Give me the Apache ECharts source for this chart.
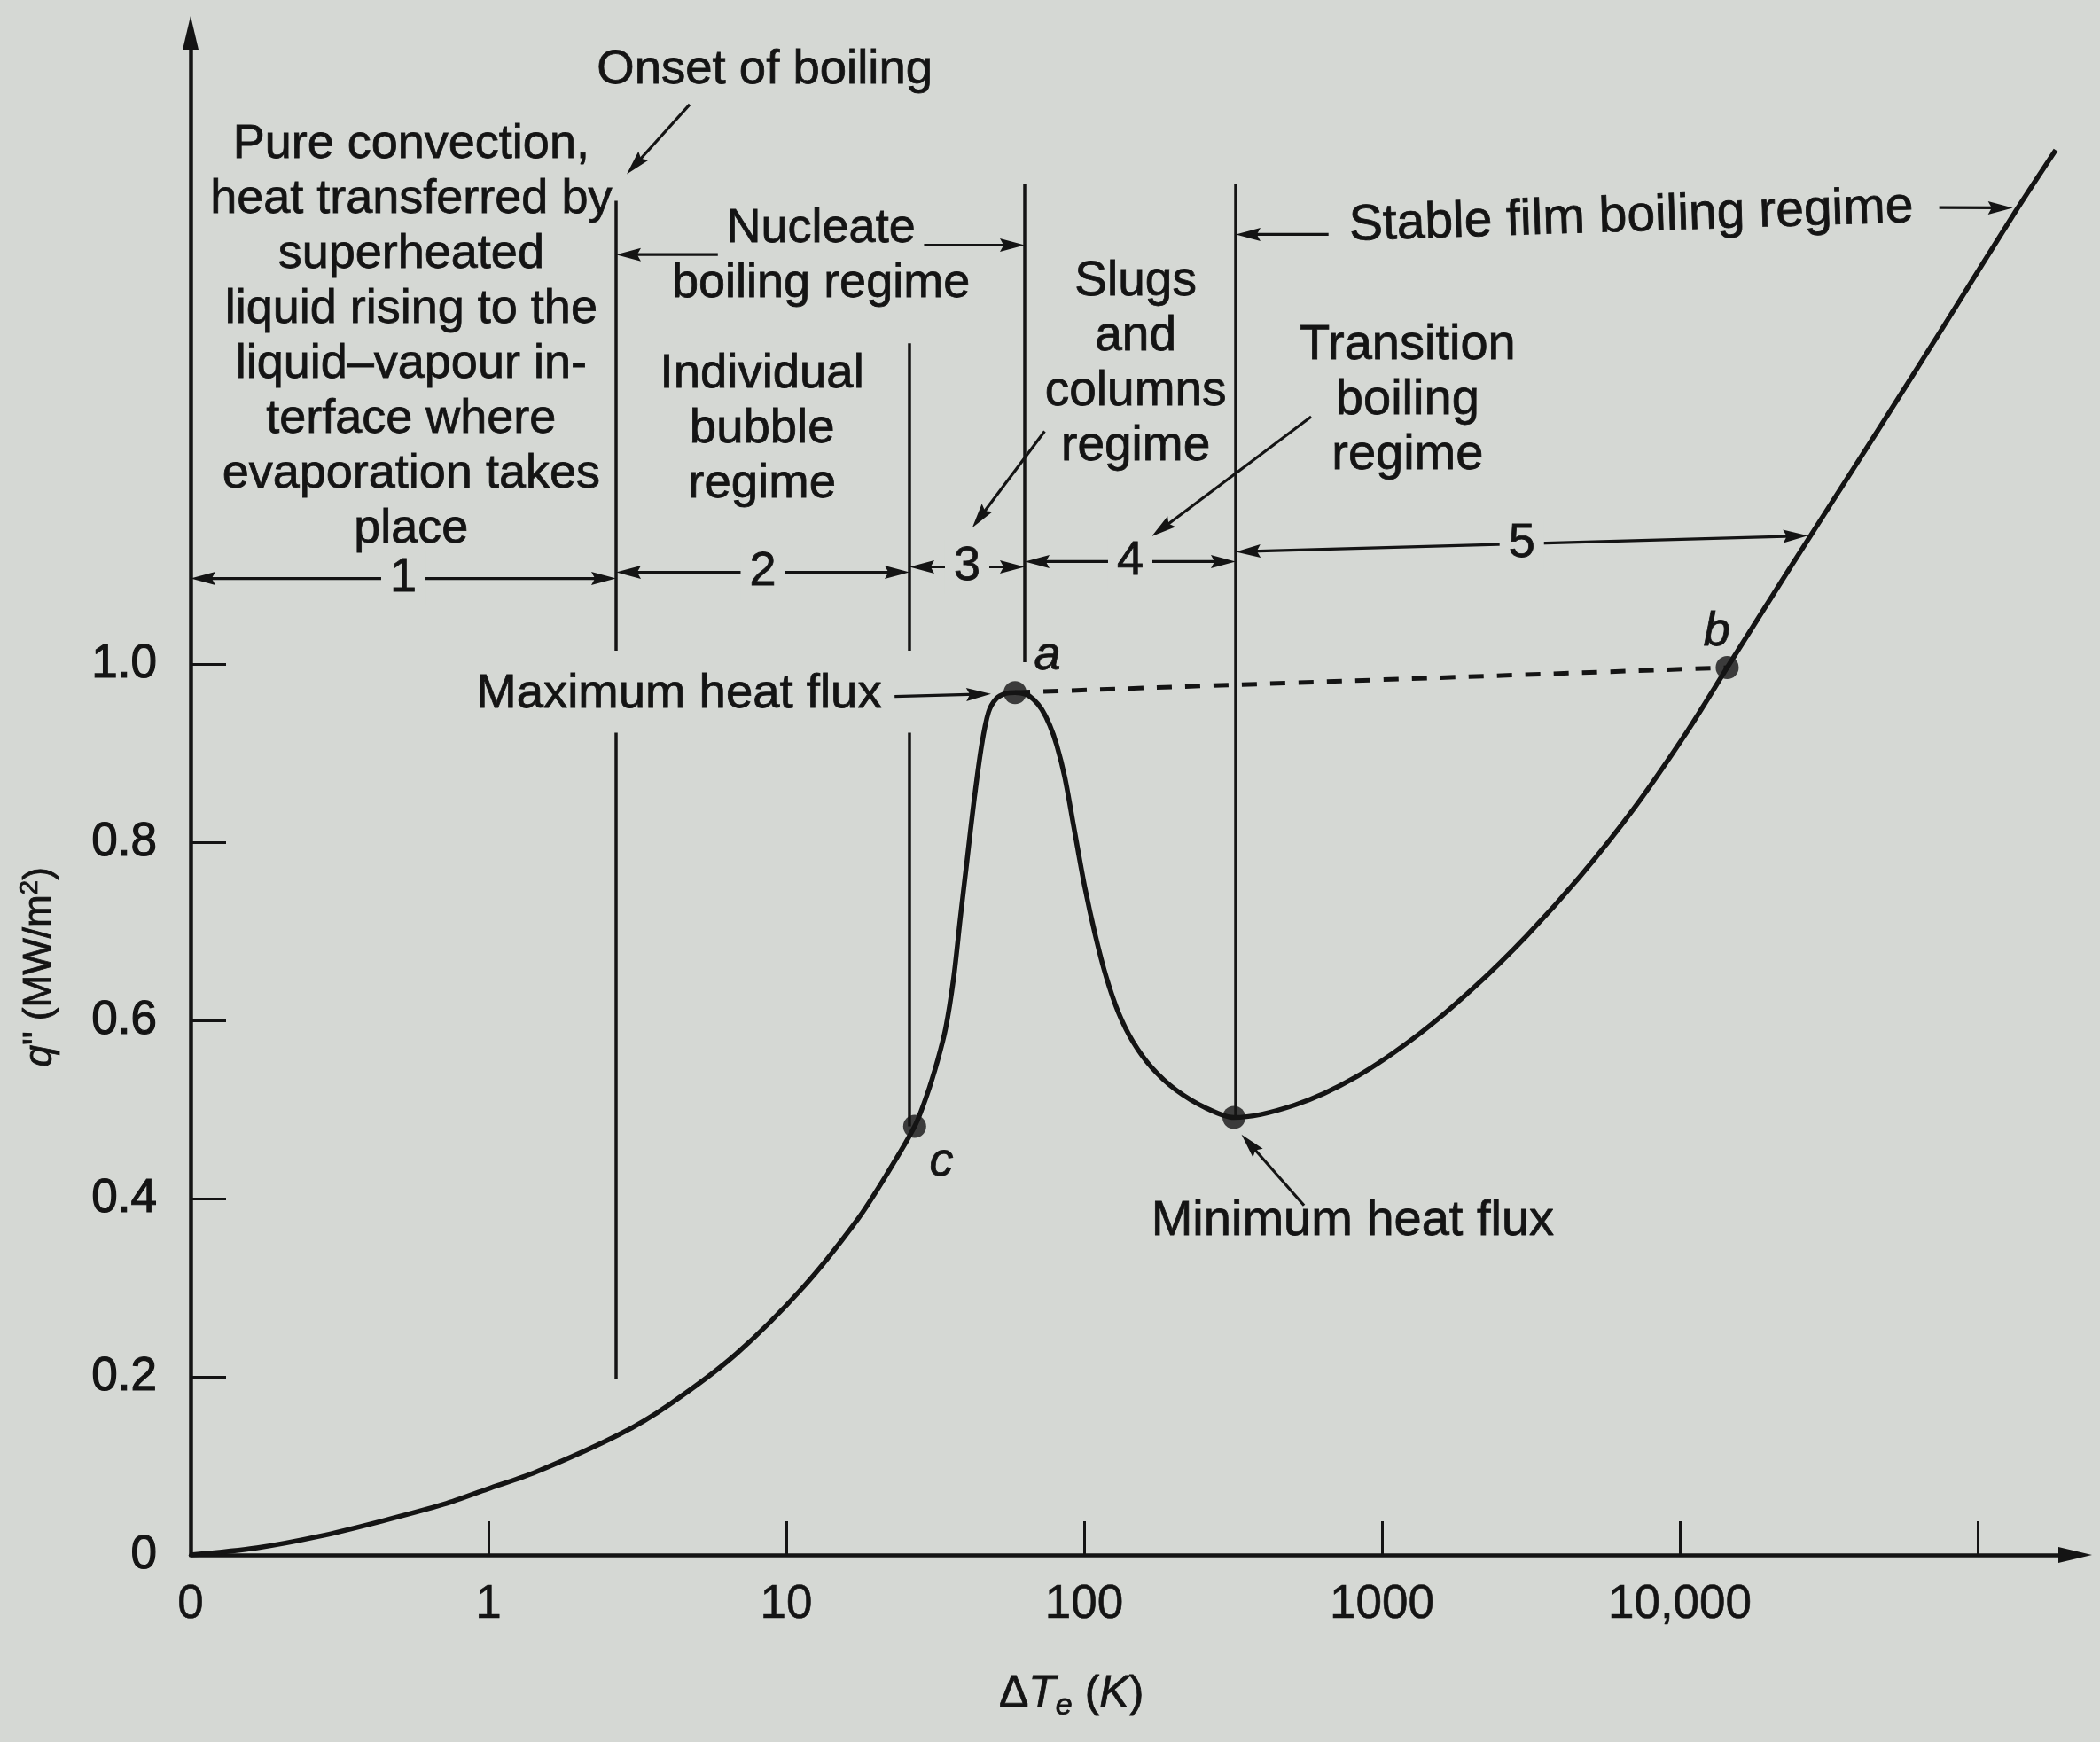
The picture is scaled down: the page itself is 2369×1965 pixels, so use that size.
<!DOCTYPE html>
<html>
<head>
<meta charset="utf-8">
<title>Boiling curve</title>
<script src="https://cdn.jsdelivr.net/npm/echarts@6/dist/echarts.min.js"></script>
<style>
  html, body { margin: 0; padding: 0; background: #d5d8d4; }
  #chart { width: 2369px; height: 1965px; }
</style>
</head>
<body>
<div id="chart"></div>
<script>
// Pool boiling curve. The horizontal axis is a decade scale: one unit per decade of excess
// temperature, with 0 at the origin, 1 -> 1 K, 2 -> 10 K, 3 -> 100 K and so on.
const xTickValues = [1, 2, 3, 4, 5, 6];
const xLabelValues = [0, 1, 2, 3, 4, 5];
const xTickLabels = ['0', '1', '10', '100', '1000', '10,000'];
const yTickValues = [0, 0.2, 0.4, 0.6, 0.8, 1.0];
const yTickLabels = ['0', '0.2', '0.4', '0.6', '0.8', '1.0'];

// heat flux q'' (MW/m2) along the boiling curve
const curveX = [0, 0.223, 0.433, 0.642, 0.851, 0.997, 1.159, 1.438, 1.608, 1.833, 2.058, 2.238,
  2.337, 2.431, 2.472, 2.508, 2.535, 2.562, 2.584, 2.607, 2.629, 2.656, 2.679, 2.705, 2.737,
  2.768, 2.804, 2.831, 2.858, 2.885, 2.908, 2.935, 2.966, 3.002, 3.038, 3.074, 3.115, 3.164,
  3.227, 3.308, 3.407, 3.503, 3.707, 3.915, 4.126, 4.306, 4.486, 4.666, 4.846, 5.026, 5.159,
  5.372, 5.655, 5.880, 6.127, 6.262];
const curveQ = [0, 0.008, 0.021, 0.038, 0.057, 0.074, 0.093, 0.135, 0.169, 0.226, 0.301, 0.376,
  0.427, 0.481, 0.516, 0.555, 0.591, 0.648, 0.714, 0.780, 0.843, 0.909, 0.946, 0.961, 0.967,
  0.968, 0.966, 0.960, 0.949, 0.931, 0.909, 0.873, 0.816, 0.750, 0.695, 0.649, 0.609, 0.576,
  0.547, 0.522, 0.502, 0.491, 0.505, 0.537, 0.585, 0.636, 0.695, 0.762, 0.838, 0.925, 0.996,
  1.109, 1.257, 1.376, 1.508, 1.577];

// marked points: a (maximum heat flux), b, c, and the minimum heat flux
const pointNames = ['a', 'b', 'c', 'min'];
const pointX = [2.768, 5.159, 2.431, 3.503];
const pointQ = [0.968, 0.996, 0.481, 0.491];

// regime boundaries and the vertical extent of each drawn piece
const boundaryX = [1.4286, 2.4137, 2.8006, 3.5089];
const boundarySpans = [
  [[1.520, 1.015], [0.923, 0.197]],
  [[1.360, 1.015], [0.923, 0.481]],
  [[1.539, 1.002]],
  [[1.539, 0.491]]
];

// regime numbers 1..5 with their dimension arrows [xFrom, qFrom, xTo, qTo]
const regimeNumbers = ['1', '2', '3', '4', '5'];
const regimeSpans = [
  [0, 1.096, 1.4286, 1.096],
  [1.4286, 1.103, 2.4137, 1.103],
  [2.4137, 1.109, 2.8006, 1.109],
  [2.8006, 1.115, 3.5089, 1.115],
  [3.5089, 1.126, 5.430, 1.144]
];

// leader arrows [xFrom, qFrom, xTo, qTo] with the head at the "to" end
const leaderArrows = [
  [1.7702, 1.4596, 1.4286, 1.4596],   // nucleate, left
  [2.4626, 1.4702, 2.8006, 1.4702],   // nucleate, right
  [3.8205, 1.4822, 3.5089, 1.4822],   // stable film, left
  [5.8709, 1.5123, 6.118, 1.512],     // stable film, right
  [1.6757, 1.628, 1.4644, 1.5498],    // onset of boiling
  [2.3637, 0.9636, 2.6874, 0.9665],   // maximum heat flux
  [2.8673, 1.2612, 2.6245, 1.153],    // slugs and columns -> 3
  [3.7622, 1.2777, 3.227, 1.1432],    // transition -> 4
  [3.7383, 0.3923, 3.5283, 0.472]     // minimum heat flux
];

const PAPER = '#d5d8d4';
const INK = '#141414';
const FONT = "'Liberation Sans', Arial, Helvetica, sans-serif";
const FS = 54;
const LH = 62;

// text notes anchored in data coordinates
const notes = [
  { t: 'Pure convection,\nheat transferred by\nsuperheated\nliquid rising to the\nliquid\u2013vapour in-\nterface where\nevaporation takes\nplace', x: 0.7405, q: 1.3672, size: 54 },
  { t: 'Onset of boiling', x: 1.9276, q: 1.6671, size: 54.5 },
  { t: 'Nucleate\nboiling regime', x: 2.1164, q: 1.4581, size: 54 },
  { t: 'Individual\nbubble\nregime', x: 1.9186, q: 1.2642, size: 54.5 },
  { t: 'Slugs\nand\ncolumns\nregime', x: 3.1731, q: 1.3364, size: 55 },
  { t: 'Transition\nboiling\nregime', x: 4.0858, q: 1.2958, size: 56 },
  { t: 'Stable film boiling regime', x: 4.8367, q: 1.5017, rot: 0.033, size: 57 },
  { t: 'Maximum heat flux', x: 1.6398, q: 0.9666, size: 54.5 },
  { t: 'Minimum heat flux', x: 3.9015, q: 0.3743, size: 56 },
  { t: 'a', x: 2.8763, q: 1.0087, italic: true },
  { t: 'b', x: 5.1245, q: 1.0357, italic: true },
  { t: 'c', x: 2.5211, q: 0.4404, italic: true },
  { t: '{n|\u0394}{i|T}{sub|e}{n| (}{i|K}{n|)}', x: 2.9572, q: -0.1564, rich: true, size: 50 },
  { t: '{i|q}{n|" (MW/m}{sup|2}{n|)}', x: -0.505, q: 0.6599, rich: true, rot: Math.PI / 2, size: 44 }
];
regimeSpans.forEach(function (s, i) {
  notes.push({ t: regimeNumbers[i], x: (s[0] + s[2]) / 2, q: (s[1] + s[3]) / 2, bg: true });
});

const curve = curveX.map(function (x, i) { return [x, curveQ[i]]; });
const points = pointX.map(function (x, i) { return [x, pointQ[i]]; });

const boundaryLines = [];
boundaryX.forEach(function (x, i) {
  boundarySpans[i].forEach(function (s) {
    boundaryLines.push({ coords: [[x, s[0]], [x, s[1]]] });
  });
});

function arrowItem(params, api) {
  const a = api.coord([api.value(0), api.value(1)]);
  const b = api.coord([api.value(2), api.value(3)]);
  const both = api.value(4) === 1;
  const dx = b[0] - a[0], dy = b[1] - a[1];
  const len = Math.hypot(dx, dy);
  const ux = dx / len, uy = dy / len, nx = -uy, ny = ux;
  const L = 28, W = 7.5;
  const s = both ? L * 0.6 : 0, e = L * 0.6;
  const children = [{
    type: 'line',
    shape: { x1: a[0] + ux * s, y1: a[1] + uy * s, x2: b[0] - ux * e, y2: b[1] - uy * e },
    style: { stroke: INK, lineWidth: 3.2 }
  }];
  function head(tip, dirx, diry) {
    return {
      type: 'polygon',
      shape: { points: [
        [tip[0], tip[1]],
        [tip[0] - dirx * L + nx * W, tip[1] - diry * L + ny * W],
        [tip[0] - dirx * L * 0.85, tip[1] - diry * L * 0.85],
        [tip[0] - dirx * L - nx * W, tip[1] - diry * L - ny * W]
      ] },
      style: { fill: INK }
    };
  }
  children.push(head(b, ux, uy));
  if (both) children.push(head(a, -ux, -uy));
  return { type: 'group', children: children };
}

function noteItem(params, api) {
  const n = notes[params.dataIndex];
  const p = api.coord([n.x, n.q]);
  const size = n.size || FS;
  const style = {
    text: n.t,
    fill: INK,
    fontFamily: FONT,
    fontSize: size,
    fontStyle: n.italic ? 'italic' : 'normal',
    lineHeight: LH,
    align: 'center',
    verticalAlign: 'middle',
    stroke: INK,
    lineWidth: 0.8
  };
  if (n.rich) {
    style.lineHeight = size * 1.2;
    style.rich = {
      n: { fontFamily: FONT, fontSize: size, fill: INK, lineHeight: size * 1.2 },
      i: { fontFamily: FONT, fontSize: size, fill: INK, fontStyle: 'italic', lineHeight: size * 1.2 },
      sub: { fontFamily: FONT, fontSize: size * 0.68, fill: INK, fontStyle: 'italic', verticalAlign: 'bottom', lineHeight: size * 0.9 },
      sup: { fontFamily: FONT, fontSize: size * 0.68, fill: INK, verticalAlign: 'top', lineHeight: size * 0.9 }
    };
  }
  if (n.bg) {
    style.backgroundColor = PAPER;
    style.padding = [0, 10];
  }
  return { type: 'text', x: p[0], y: p[1], rotation: n.rot || 0, style: style };
}

const chart = echarts.init(document.getElementById('chart'));
chart.setOption({
  backgroundColor: PAPER,
  animation: false,
  grid: { left: 215, right: 28, top: 37, bottom: 211 },
  xAxis: {
    type: 'value',
    min: 0,
    max: 6.3274,
    axisLine: {
      onZero: false,
      symbol: ['none', 'triangle'],
      symbolSize: [18, 38],
      lineStyle: { color: INK, width: 4.5 }
    },
    axisTick: { inside: true, length: 38, customValues: xTickValues, lineStyle: { color: INK, width: 3 } },
    axisLabel: {
      customValues: xLabelValues,
      formatter: function (v) { return xTickLabels[xLabelValues.indexOf(Math.round(v))] || ''; },
      margin: 30, fontSize: 53, fontFamily: FONT, color: INK,
      textBorderColor: INK, textBorderWidth: 0.6
    },
    splitLine: { show: false }
  },
  yAxis: {
    type: 'value',
    min: 0,
    max: 1.7085,
    axisLine: {
      show: true,
      symbol: ['none', 'triangle'],
      symbolSize: [18, 38],
      lineStyle: { color: INK, width: 4.5 }
    },
    axisTick: { show: true, inside: true, length: 40, customValues: [0.2, 0.4, 0.6, 0.8, 1.0], lineStyle: { color: INK, width: 3 } },
    axisLabel: {
      customValues: yTickValues,
      formatter: function (v) {
        const i = yTickValues.findIndex(function (t) { return Math.abs(t - v) < 1e-6; });
        return i >= 0 ? yTickLabels[i] : '';
      },
      margin: 38, fontSize: 53, fontFamily: FONT, color: INK,
      textBorderColor: INK, textBorderWidth: 1.2
    },
    splitLine: { show: false }
  },
  series: [
    {
      name: 'regime boundaries',
      type: 'lines',
      coordinateSystem: 'cartesian2d',
      symbol: ['none', 'none'],
      lineStyle: { color: INK, width: 3.5, opacity: 1, curveness: 0 },
      data: boundaryLines,
      z: 2
    },
    {
      name: 'equal heat flux',
      type: 'lines',
      coordinateSystem: 'cartesian2d',
      symbol: ['none', 'none'],
      lineStyle: { color: INK, width: 5, opacity: 1, type: [17, 15] },
      data: [{ coords: [points[0], points[1]] }],
      z: 2
    },
    {
      name: 'boiling curve',
      type: 'line',
      data: curve,
      smooth: 0.3,
      showSymbol: false,
      lineStyle: { color: INK, width: 5.5 },
      z: 3
    },
    {
      name: 'points',
      type: 'scatter',
      data: points,
      symbolSize: 26,
      itemStyle: { color: INK },
      z: 4
    },
    {
      name: 'dimension arrows',
      type: 'custom',
      clip: false,
      renderItem: arrowItem,
      data: regimeSpans.map(function (s) { return s.concat([1]); })
        .concat(leaderArrows.map(function (s) { return s.concat([0]); })),
      z: 5
    },
    {
      name: 'notes',
      type: 'custom',
      clip: false,
      renderItem: noteItem,
      data: notes.map(function (n) { return [n.x, n.q]; }),
      z: 10
    }
  ]
});
</script>
</body>
</html>
